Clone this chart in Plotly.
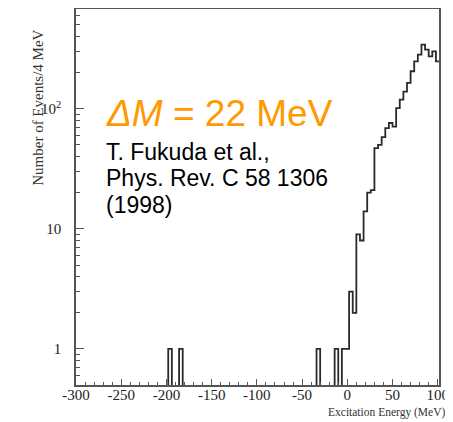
import plotly.graph_objects as go

# ---- data ----
bin_width = 4  # MeV
bin_centers = [-196, -184, -32, -12, -4, 0, 4, 8, 12, 16, 20, 24, 28, 32, 36, 40,
               44, 48, 52, 56, 60, 64, 68, 72, 76, 80, 84, 88, 92, 96, 100]
counts = [1, 1, 1, 1, 1, 1, 3, 2, 9, 8, 14, 20, 21, 47, 50, 58,
          69, 76, 71, 101, 119, 139, 164, 205, 248, 282, 341, 310, 273, 300, 248]

x_tick_vals = [-300, -250, -200, -150, -100, -50, 0, 50, 100]
x_tick_text = ["-300", "-250", "-200", "-150", "-100", "-50", "0", "50", "100"]
y_tick_vals = [1, 10, 100]
y_tick_text = ["1", "10", "10<sup>2</sup>"]

# ---- build full histogram grid (zeros elsewhere) ----
grid_centers = list(range(-300, 101, bin_width))
lookup = dict(zip(bin_centers, counts))
grid_counts = [lookup.get(c, 0) for c in grid_centers]
floor = 0.05  # zero bins drawn below the visible log range
edges = [c - bin_width / 2 for c in grid_centers] + [grid_centers[-1] + bin_width / 2]
yvals = [max(v, floor) for v in grid_counts]
yvals = yvals + [yvals[-1]]

minor_y = [v * m for v in (0.1, 1, 10, 100) for m in range(2, 10)]

fig = go.Figure()
fig.add_trace(go.Scatter(x=edges, y=yvals, mode="lines", line_shape="hv",
                         line=dict(color="#2a2a2a", width=1.8),
                         showlegend=False, hoverinfo="skip"))

serif = "Liberation Serif, Times New Roman, serif"
sans = "Liberation Sans, Arial, sans-serif"

# page body has an 8px default margin, so the figure is sized to fit the window
fig.update_layout(
    width=445, height=414,
    margin=dict(l=68, r=14, t=1, b=37),
    paper_bgcolor="white", plot_bgcolor="white",
    xaxis=dict(range=[-300, 101.4], showgrid=False, zeroline=False,
               showline=True, linecolor="#555555", linewidth=1.5, mirror=True,
               ticks="inside", ticklen=6, tickcolor="#555555", tickwidth=1,
               tickvals=x_tick_vals, ticktext=x_tick_text,
               tickfont=dict(family=serif, size=15, color="#222222"),
               ticklabelstandoff=-5, automargin=False,
               minor=dict(ticks="inside", ticklen=3, dtick=10, tick0=0,
                          tickcolor="#555555", tickwidth=1)),
    yaxis=dict(type="log", range=[-0.3, 2.83], showgrid=False, zeroline=False,
               showline=True, linecolor="#555555", linewidth=1.5, mirror=True,
               ticks="inside", ticklen=8, tickcolor="#555555", tickwidth=1,
               tickvals=y_tick_vals, ticktext=y_tick_text,
               tickfont=dict(family=serif, size=15, color="#222222"),
               ticklabelstandoff=10, automargin=False,
               minor=dict(ticks="inside", ticklen=4, tickvals=minor_y,
                          tickcolor="#555555", tickwidth=1)),
)

fig.add_annotation(text="Number of Events/4 MeV", textangle=-90,
                   xref="paper", yref="paper", x=-0.105, y=0.737,
                   xanchor="center", yanchor="middle", showarrow=False,
                   font=dict(family=serif, size=15, color="#333333"))
fig.add_annotation(text="Excitation Energy (MeV)",
                   xref="paper", yref="paper", x=1.022, y=-0.074,
                   xanchor="right", yanchor="middle", showarrow=False,
                   font=dict(family=serif, size=11.5, color="#333333"))

fig.add_annotation(text="<i>ΔM</i> = 22 MeV",
                   xref="paper", yref="paper", x=0.077, y=0.723,
                   xanchor="left", yanchor="middle", showarrow=False,
                   font=dict(family=sans, size=37, color="#FF9900"))
for txt, yy in [("T. Fukuda et al.,", 0.620),
                ("Phys. Rev. C 58 1306", 0.551),
                ("(1998)", 0.479)]:
    fig.add_annotation(text=txt, xref="paper", yref="paper", x=0.077, y=yy,
                       xanchor="left", yanchor="middle", showarrow=False,
                       font=dict(family=sans, size=23, color="#000000"))

fig.write_html("out.html")
